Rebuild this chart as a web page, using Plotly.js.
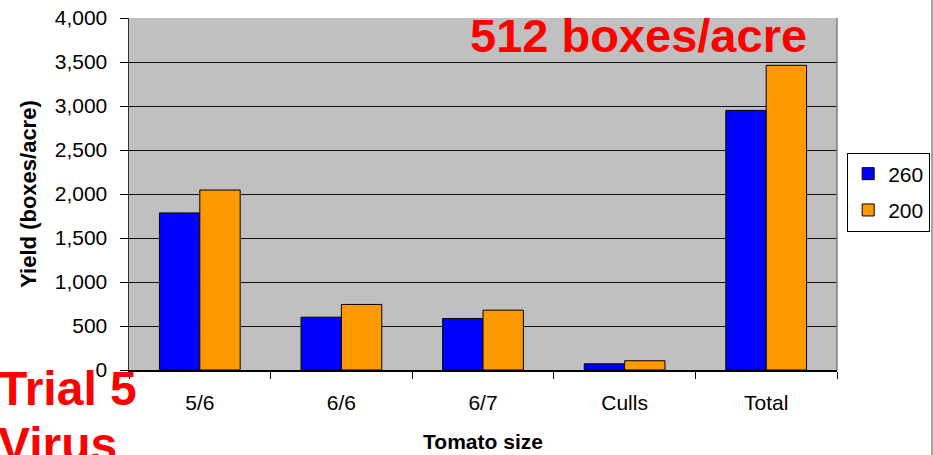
<!DOCTYPE html>
<html><head><meta charset="utf-8">
<script src="https://cdn.plot.ly/plotly-3.0.1.min.js"></script>
<style>body{margin:0;padding:0;background:#fff}#chart{width:933px;height:455px}</style>
</head><body><div id="chart"></div>
<script>
const categories = ["5/6", "6/6", "6/7", "Culls", "Total"];
const series260 = [1785, 600, 585, 70, 2950];
const series200 = [2045, 745, 680, 105, 3462];
const seriesNames = ["260", "200"];
const yTickVals = [0, 500, 1000, 1500, 2000, 2500, 3000, 3500, 4000];
const yTickText = ["0", "500", "1,000", "1,500", "2,000", "2,500", "3,000", "3,500", "4,000"];

const font = "Liberation Sans, Arial, sans-serif";
const traces = [
  {type: "bar", name: seriesNames[0], x: categories, y: series260, legendgroup: "a",
   marker: {color: "#0000FF", line: {color: "#000", width: 1}}},
  {type: "bar", name: seriesNames[1], x: categories, y: series200, legendgroup: "b",
   marker: {color: "#FF9900", line: {color: "#000", width: 1}}}
];
const layout = {
  width: 933, height: 455,
  margin: {l: 129, r: 96, t: 18, b: 85, autoexpand: false},
  paper_bgcolor: "#fff", plot_bgcolor: "#C0C0C0",
  barmode: "group", bargap: 0.43, bargroupgap: 0,
  font: {family: font, size: 21, color: "#000"},
  showlegend: true,
  legend: {xref: "container", yref: "container", x: 0.908, xanchor: "left", y: 0.578, yanchor: "middle",
    bordercolor: "#000", borderwidth: 1, bgcolor: "#fff", traceorder: "grouped",
    font: {family: font, size: 21}, itemwidth: 30, tracegroupgap: 6},
  xaxis: {type: "category", showline: true, linecolor: "#000", linewidth: 1.5,
    ticks: "outside", tickson: "boundaries", ticklen: 7, tickcolor: "#000", ticklabelstandoff: 13,
    tickfont: {family: font, size: 21}, showgrid: false,
    title: {text: "<b>Tomato size</b>", font: {family: font, size: 21}, standoff: 21}},
  yaxis: {range: [0, 4000], tickvals: yTickVals, ticktext: yTickText,
    showline: true, linecolor: "#333", linewidth: 1.5,
    ticks: "outside", ticklen: 8, tickcolor: "#000", ticklabelstandoff: 8,
    showgrid: true, gridcolor: "#111", gridwidth: 1, zeroline: false,
    tickfont: {family: font, size: 21},
    title: {text: "<b>Yield (boxes/acre)</b>", font: {family: font, size: 22}, standoff: 12}},
  annotations: [
    {text: "<b>512 boxes/acre</b>", xref: "paper", yref: "paper", x: 0.961, y: 0.9489,
     xanchor: "right", yanchor: "middle", showarrow: false,
     font: {family: font, size: 47, color: "#FF0000"}},
    {text: "<b>Trial 5</b>", xref: "paper", yref: "paper",
     x: -0.1879, y: -0.0526, xanchor: "left", yanchor: "middle", showarrow: false,
     font: {family: font, size: 48, color: "#FF0000"}},
    {text: "<b>Virus</b>", xref: "paper", yref: "paper",
     x: -0.1879, y: -0.2116, xanchor: "left", yanchor: "middle", showarrow: false,
     font: {family: font, size: 48, color: "#FF0000"}}
  ],
  shapes: [
    {type: "line", xref: "paper", yref: "paper", x0: 1, x1: 1, y0: 0, y1: 1,
     line: {color: "#808080", width: 1.5}},
    {type: "line", xref: "paper", yref: "paper", x0: 1.1342, x1: 1.1342, y0: -0.3, y1: 1.06,
     line: {color: "#888", width: 1.5}}
  ]
};
Plotly.newPlot("chart", traces, layout, {displayModeBar: false, staticPlot: true});
</script></body></html>
